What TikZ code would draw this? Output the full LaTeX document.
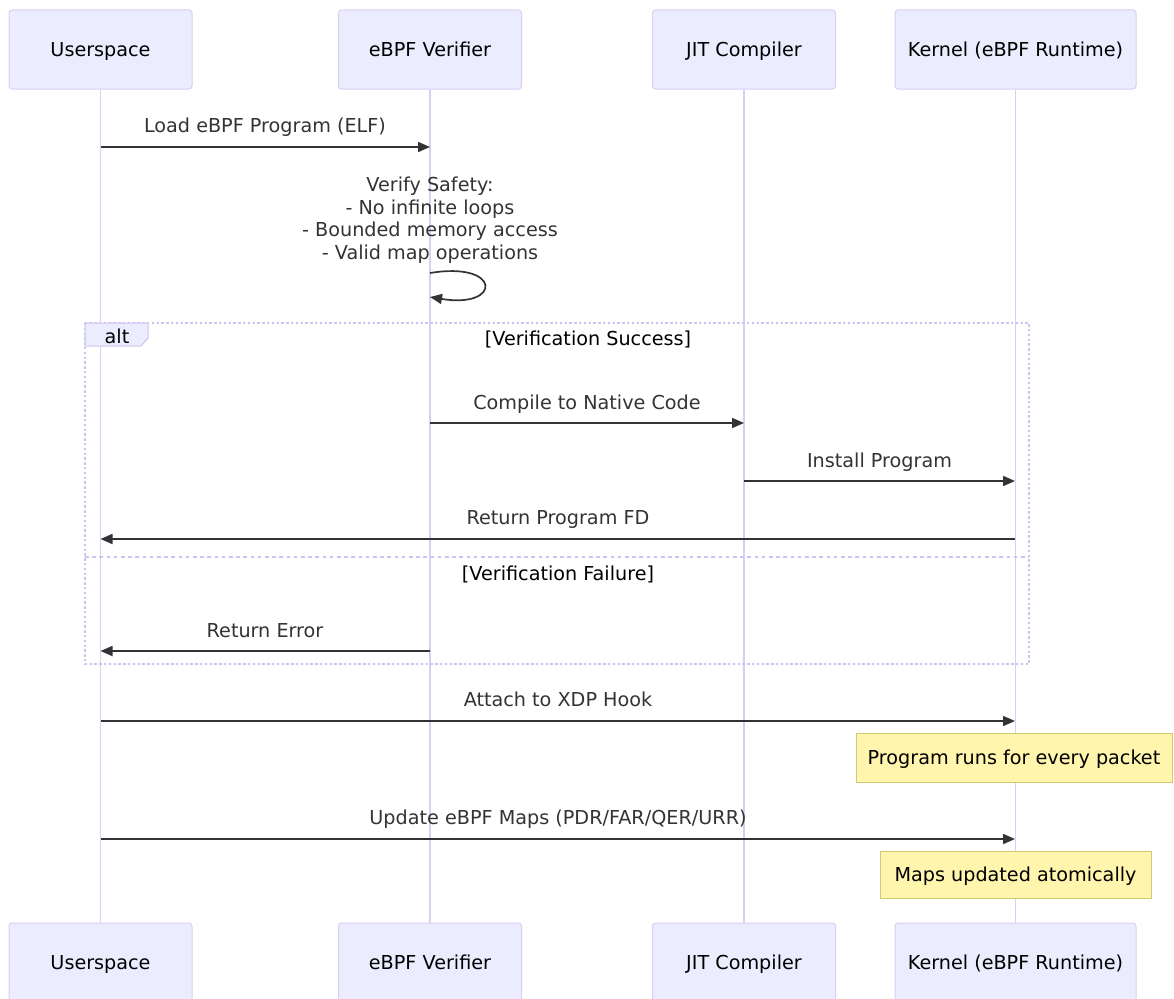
\documentclass[tikz,border=0pt]{standalone}
\usepackage{fontspec}
\setmainfont{DejaVu Sans}
\usetikzlibrary{arrows.meta}
\definecolor{actfill}{HTML}{ECECFF}
\definecolor{actline}{HTML}{DACEF3}
\definecolor{lifecol}{HTML}{D9CFF4}
\definecolor{loopcol}{HTML}{CDC2F0}
\definecolor{sig}{HTML}{333333}
\definecolor{notefill}{HTML}{FFF5AD}
\definecolor{noteline}{HTML}{D2CB72}
\begin{document}
\begin{tikzpicture}[x=1pt,y=-1pt,
  base/.style={font=\fontsize{19.2}{23}\selectfont, text height=19pt, text depth=4.5pt},
  actor/.style={base, draw=actline, line width=1pt, fill=actfill, rounded corners=3pt,
    minimum height=79pt, minimum width=183pt, inner sep=0pt, text=black},
  lifeline/.style={draw=lifecol, line width=1.9pt},
  msg/.style={draw=sig, line width=1.7pt, -{Triangle[length=12pt,width=10pt]}},
  msglabel/.style={base, text=sig, inner sep=0pt},
  looptext/.style={base, text=black, inner sep=0pt},
  notebox/.style={base, draw=noteline, line width=1pt, fill=notefill, text=black, inner sep=0pt},
  loopframe/.style={draw=loopcol, line width=1.5pt, dash pattern=on 2.4pt off 2.4pt},
  sepline/.style={draw=loopcol, line width=1.5pt, dash pattern=on 3.6pt off 3.6pt}]
\clip (0,0) rectangle (1174,998);
\fill[white] (0,0) rectangle (1174,998);

% actors
\node[actor] (uT) at (100.5,49.5) {Userspace};
\node[actor] (vT) at (430,49.5) {eBPF Verifier};
\node[actor] (jT) at (744,49.5) {JIT Compiler};
\node[actor, minimum width=241pt] (kT) at (1015.5,49.5) {Kernel (eBPF Runtime)};
\node[actor] (uB) at (100.5,962.5) {Userspace};
\node[actor] (vB) at (430,962.5) {eBPF Verifier};
\node[actor] (jB) at (744,962.5) {JIT Compiler};
\node[actor, minimum width=241pt] (kB) at (1015.5,962.5) {Kernel (eBPF Runtime)};

% lifelines
\draw[lifeline] (uT.south) -- (uB.north);
\draw[lifeline] (vT.south) -- (vB.north);
\draw[lifeline] (jT.south) -- (jB.north);
\draw[lifeline] (kT.south) -- (kB.north);

% alt frame
\draw[loopframe] (85,323) rectangle (1029,664);
\draw[sepline] (85,557) -- (1029,557);
\filldraw[fill=actfill, draw=loopcol, line width=1pt] (85,323) -- (148,323) -- (148,338) -- (141,346) -- (85,346) -- cycle;
\node[looptext] (altlbl) at (117,336) {alt};
\node[looptext] (cond1) at (588,338) {[Verification Success]};
\node[looptext] (cond2) at (558,573) {[Verification Failure]};

% message endpoints
\coordinate (u1) at (100.5,147); \coordinate (v1) at (430,147);
\coordinate (s1) at (430,273);   \coordinate (s2) at (430,297);
\coordinate (v2) at (430,423);   \coordinate (j2) at (744,423);
\coordinate (j3) at (744,481);   \coordinate (k3) at (1015,481);
\coordinate (k4) at (1015,539);  \coordinate (u4) at (100.5,539);
\coordinate (v5) at (430,651);   \coordinate (u5) at (100.5,651);
\coordinate (u6) at (100.5,721); \coordinate (k6) at (1015,721);
\coordinate (u7) at (100.5,839); \coordinate (k7) at (1015,839);

% messages
\draw[msg] (u1) -- (v1);
\node[msglabel] (l1) at (265,125) {Load eBPF Program (ELF)};

\node[msglabel, align=center, font=\fontsize{19.2}{22.5}\selectfont, text height=, text depth=] (l2) at (430,220)
  {Verify Safety:\\- No infinite loops\\- Bounded memory access\\- Valid map operations};
\draw[msg] (s1) .. controls (502,261) and (502,309) .. (s2);

\draw[msg] (v2) -- (j2);
\node[msglabel] (l3) at (587,402) {Compile to Native Code};

\draw[msg] (j3) -- (k3);
\node[msglabel] (l4) at (879.5,460) {Install Program};

\draw[msg] (k4) -- (u4);
\node[msglabel] (l5) at (558,517) {Return Program FD};

\draw[msg] (v5) -- (u5);
\node[msglabel] (l6) at (265,630) {Return Error};

\draw[msg] (u6) -- (k6);
\node[msglabel] (l7) at (558,699) {Attach to XDP Hook};

\node[notebox, minimum width=316pt, minimum height=49pt] (n1) at (1014,757.5) {Program runs for every packet};

\draw[msg] (u7) -- (k7);
\node[msglabel] (l8) at (558,817) {Update eBPF Maps (PDR/FAR/QER/URR)};

\node[notebox, minimum width=271pt, minimum height=47pt] (n2) at (1015.5,874.5) {Maps updated atomically};
\end{tikzpicture}
\end{document}
